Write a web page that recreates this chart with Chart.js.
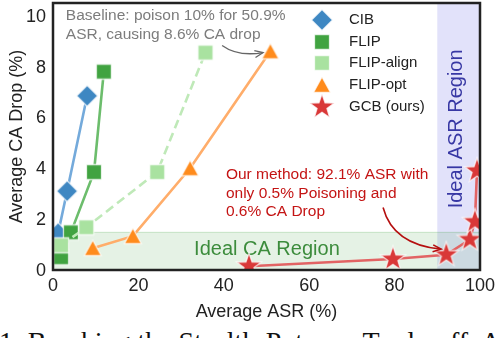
<!DOCTYPE html>
<html>
<head>
<meta charset="utf-8">
<script src="https://cdn.jsdelivr.net/npm/chart.js@4.4.1/dist/chart.umd.min.js"></script>
<style>
html, body { margin: 0; padding: 0; background: #fff; }
#wrap { position: relative; width: 498px; height: 338px; overflow: hidden; }
#caption { position: absolute; left: -1px; top: 328px; font: 28px "Liberation Serif", serif; line-height: 28px; white-space: nowrap; color: #111; }
canvas { position: absolute; left: 0; top: 0; }
</style>
</head>
<body>
<div id="wrap">
  <div id="caption">1: Breaking the Stealth-Potency Trade-off. A</div>
  <canvas id="chart" width="498" height="338"></canvas>
</div>
<script>
// data (ASR %, CA drop %)
const seriesNames = ['CIB', 'FLIP', 'FLIP-align', 'FLIP-opt', 'GCB (ours)'];
const cibAsr = [1.2, 3.3, 8.0];
const cibDrop = [1.45, 3.1, 6.85];
const flipAsr = [1.9, 4.2, 9.6, 11.9];
const flipDrop = [0.5, 1.48, 3.85, 7.8];
const alignAsr = [1.9, 7.8, 24.4, 35.7];
const alignDrop = [0.97, 1.68, 3.85, 8.55];
const optAsr = [9.3, 18.7, 32.1, 50.9];
const optDrop = [0.86, 1.33, 4.0, 8.6];
const gcbAsr = [45.9, 79.6, 92.1, 97.6, 98.8, 99.3];
const gcbDrop = [0.15, 0.43, 0.6, 1.2, 1.9, 3.9];

const xTicks = [0, 20, 40, 60, 80, 100];
const yTicks = [0, 2, 4, 6, 8, 10];

const idealCaMax = 1.5;     // ideal CA region: drop below this
const idealAsrMin = 90;     // ideal ASR region: asr above this

const baselineNote = ['Baseline: poison 10% for 50.9%', 'ASR, causing 8.6% CA drop'];
const oursNote = ['Our method: 92.1% ASR with', 'only 0.5% Poisoning and', '0.6% CA Drop'];

const FONT = '"Liberation Sans", Arial, sans-serif';

function toPoints(xs, ys) {
  return xs.map(function (v, i) { return { x: v, y: ys[i] }; });
}

// marker images, drawn once and used both for points and legend
function makeMarker(shape, fill) {
  const size = shape === 'star' ? 30 : 26;
  const c = document.createElement('canvas');
  c.width = size; c.height = size;
  const g = c.getContext('2d');
  const m = size / 2;
  g.beginPath();
  if (shape === 'diamond') {
    g.moveTo(m, m - 10.5); g.lineTo(m + 10.5, m); g.lineTo(m, m + 10.5); g.lineTo(m - 10.5, m);
  } else if (shape === 'square') {
    g.rect(m - 7.5, m - 7.5, 15, 15);
  } else if (shape === 'triangle') {
    g.moveTo(m, m - 8); g.lineTo(m + 8.5, m + 7.5); g.lineTo(m - 8.5, m + 7.5);
  } else {
    for (let i = 0; i < 10; i++) {
      const r = i % 2 === 0 ? 13 : 5.2;
      const a = -Math.PI / 2 + i * Math.PI / 5;
      if (i === 0) g.moveTo(m + r * Math.cos(a), m + r * Math.sin(a));
      else g.lineTo(m + r * Math.cos(a), m + r * Math.sin(a));
    }
  }
  g.closePath();
  g.fillStyle = fill;
  g.fill();
  g.strokeStyle = 'rgba(255,255,255,0.75)';
  g.lineWidth = 1.3;
  g.stroke();
  return c;
}

const markers = [
  makeMarker('diamond', '#3e87c2'),
  makeMarker('square', '#40a340'),
  makeMarker('square', '#a9e2a0'),
  makeMarker('triangle', '#ff8b1c'),
  makeMarker('star', '#d93838')
];
const lineColors = ['#74aadb', '#6cbd6c', '#bfe9b8', '#ffad6a', '#e26464'];

function ds(i, xs, ys, dash) {
  return {
    label: seriesNames[i],
    data: toPoints(xs, ys),
    showLine: true,
    borderColor: lineColors[i],
    borderWidth: 2.6,
    borderDash: dash || [],
    pointStyle: markers[i],
    pointRadius: 10,
    order: 5 - i,
    clip: 0
  };
}

function curvedArrow(ctx, x, y, p0, pc, p1, color, w) {
  const x0 = x.getPixelForValue(p0[0]), y0 = y.getPixelForValue(p0[1]);
  const xc = x.getPixelForValue(pc[0]), yc = y.getPixelForValue(pc[1]);
  const x1 = x.getPixelForValue(p1[0]), y1 = y.getPixelForValue(p1[1]);
  ctx.save();
  ctx.strokeStyle = color;
  ctx.lineWidth = w;
  ctx.beginPath();
  ctx.moveTo(x0, y0);
  ctx.quadraticCurveTo(xc, yc, x1, y1);
  ctx.stroke();
  const ang = Math.atan2(y1 - yc, x1 - xc);
  ctx.beginPath();
  ctx.moveTo(x1 - 9 * Math.cos(ang - 0.4), y1 - 9 * Math.sin(ang - 0.4));
  ctx.lineTo(x1, y1);
  ctx.lineTo(x1 - 9 * Math.cos(ang + 0.4), y1 - 9 * Math.sin(ang + 0.4));
  ctx.stroke();
  ctx.restore();
}

// shaded regions, notes, legend, frame, ticks
const decor = {
  id: 'decor',
  beforeDatasetsDraw(chart) {
    const { ctx, chartArea: a, scales: { x, y } } = chart;
    ctx.save();
    const ax = x.getPixelForValue(idealAsrMin);
    ctx.fillStyle = 'rgba(95,95,225,0.18)';
    ctx.fillRect(ax, a.top, a.right - ax, a.bottom - a.top);
    const cy = y.getPixelForValue(idealCaMax);
    ctx.fillStyle = 'rgba(70,165,70,0.14)';
    ctx.fillRect(a.left, cy, a.right - a.left, a.bottom - cy);
    ctx.strokeStyle = 'rgba(70,165,70,0.2)';
    ctx.lineWidth = 1;
    ctx.beginPath(); ctx.moveTo(a.left, cy + 0.5); ctx.lineTo(a.right, cy + 0.5); ctx.stroke();

    ctx.font = '20px ' + FONT;
    ctx.textAlign = 'center';
    ctx.textBaseline = 'middle';
    ctx.fillStyle = '#3c8c3c';
    ctx.fillText('Ideal CA Region', x.getPixelForValue(50.1), y.getPixelForValue(0.82));
    ctx.save();
    ctx.translate(x.getPixelForValue(94.6), y.getPixelForValue(5.55));
    ctx.rotate(-Math.PI / 2);
    ctx.fillStyle = '#3838a4';
    ctx.fillText('Ideal ASR Region', 0, 0);
    ctx.restore();
    ctx.restore();
  },
  afterDatasetsDraw(chart) {
    const { ctx, chartArea: a, scales: { x, y } } = chart;
    ctx.save();

    // frame
    ctx.strokeStyle = '#222';
    ctx.lineWidth = 2.5;
    ctx.strokeRect(a.left, a.top, a.right - a.left, a.bottom - a.top);

    // tick labels
    ctx.font = '18px ' + FONT;
    ctx.fillStyle = '#222';
    ctx.textBaseline = 'middle';
    ctx.textAlign = 'center';
    x.ticks.forEach(function (t) { ctx.fillText(String(t.value), x.getPixelForValue(t.value), a.bottom + 16); });
    ctx.textAlign = 'right';
    y.ticks.forEach(function (t) { ctx.fillText(String(t.value), a.left - 7, y.getPixelForValue(t.value) + 1); });

    // notes
    ctx.font = '15.5px ' + FONT;
    ctx.textAlign = 'left';
    ctx.fillStyle = '#7c7c7c';
    ctx.fillText(baselineNote[0], x.getPixelForValue(3.0), y.getPixelForValue(10.0));
    ctx.fillText(baselineNote[1], x.getPixelForValue(3.0), y.getPixelForValue(9.26));
    ctx.fillStyle = '#c41414';
    [3.75, 3.0, 2.3].forEach(function (v, i) {
      ctx.fillText(oursNote[i], x.getPixelForValue(40.5), y.getPixelForValue(v));
    });

    curvedArrow(ctx, x, y, [39.6, 8.83], [43.3, 8.38], [49.2, 8.55], '#666', 1.3);
    curvedArrow(ctx, x, y, [77.3, 2.46], [79.6, 1.0], [90.9, 0.82], '#b50f0f', 1.6);

    // legend
    ctx.font = '15px ' + FONT;
    ctx.fillStyle = '#222';
    const rows = [20, 42, 63, 85, 107];
    seriesNames.forEach(function (name, i) {
      const mk = markers[i];
      ctx.drawImage(mk, 322 - mk.width / 2, rows[i] - mk.height / 2);
      ctx.fillText(name, 349, rows[i]);
    });

    // axis titles
    ctx.font = '18px ' + FONT;
    ctx.textAlign = 'center';
    ctx.fillStyle = '#222';
    ctx.fillText('Average ASR (%)', (a.left + a.right) / 2, 312);
    ctx.translate(17, (a.top + a.bottom) / 2);
    ctx.rotate(-Math.PI / 2);
    ctx.fillText('Average CA Drop (%)', 0, 0);
    ctx.restore();
  }
};

new Chart(document.getElementById('chart'), {
  type: 'scatter',
  data: {
    datasets: [
      ds(0, cibAsr, cibDrop),
      ds(1, flipAsr, flipDrop),
      ds(2, alignAsr, alignDrop, [9, 5]),
      ds(3, optAsr, optDrop),
      ds(4, gcbAsr, gcbDrop)
    ]
  },
  options: {
    responsive: false,
    animation: false,
    events: [],
    layout: { autoPadding: false, padding: { left: 53, right: 18, top: 3, bottom: 68 } },
    plugins: { legend: { display: false }, tooltip: { enabled: false } },
    scales: {
      x: {
        type: 'linear', min: 0, max: 100, display: false,
        afterBuildTicks: function (s) { s.ticks = xTicks.map(function (v) { return { value: v }; }); }
      },
      y: {
        type: 'linear', min: 0, max: 10.5, display: false,
        afterBuildTicks: function (s) { s.ticks = yTicks.map(function (v) { return { value: v }; }); }
      }
    }
  },
  plugins: [decor]
});
</script>
</body>
</html>
